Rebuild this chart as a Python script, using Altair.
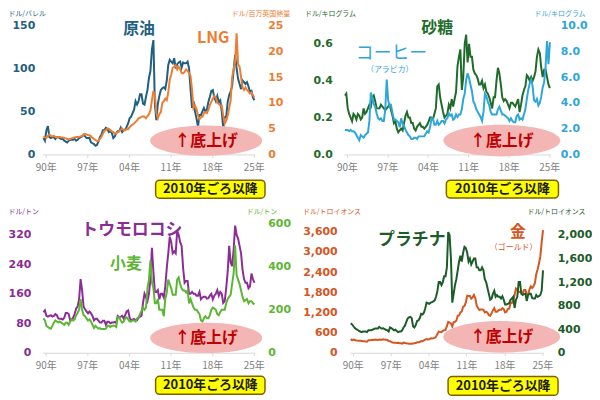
import altair as alt
import pandas as pd

# quarterly time axis (mid-quarter), 1990 Q1 .. 2025 Q3
t = [y + (q + 0.5) / 4 for y in range(1990, 2026) for q in range(4)][:143]

oil = [19, 16, 28, 33, 20, 19, 20, 20, 18, 20, 20, 19, 18, 18, 16, 15,
       14, 16, 17, 17, 17, 18, 16, 17, 19, 20, 21, 23, 21, 19, 19, 19,
       14, 13, 12, 10, 11, 15, 20, 23, 28, 28, 31, 30, 26, 27, 25, 19,
       21, 25, 27, 27, 31, 26, 28, 29, 32, 36, 42, 44, 48, 52, 62, 58,
       62, 70, 70, 59, 58, 67, 75, 89, 97, 122, 133, 58, 40, 59, 68, 75,
       77, 78, 76, 86, 104, 110, 108, 106, 112, 100, 105, 107, 108, 101, 107, 106,
       106, 108, 100, 76, 54, 62, 50, 42, 32, 46, 46, 50, 54, 50, 52, 61,
       67, 74, 75, 66, 62, 68, 61, 63, 50, 30, 43, 44, 61, 69, 73, 80,
       98, 116, 100, 88, 82, 76, 86, 84, 82, 84, 79, 73, 74, 66, 63]
lng = [3.5, 3.3, 3.2, 3.6, 3.9, 3.6, 3.5, 3.6, 3.4, 3.3, 3.4, 3.4, 3.3, 3.3, 3.2, 3.1,
       3.0, 2.9, 3.0, 3.1, 3.2, 3.3, 3.4, 3.4, 3.4, 3.5, 3.6, 3.8, 4.0, 3.9, 3.7, 3.7,
       3.5, 3.2, 3.0, 2.8, 2.6, 2.6, 3.0, 3.4, 4.0, 4.6, 4.7, 5.0, 5.0, 4.7, 4.5, 4.3,
       4.0, 4.1, 4.3, 4.5, 4.8, 5.0, 4.7, 4.7, 4.9, 4.9, 5.3, 5.6, 5.8, 6.0, 6.3, 6.6,
       7.0, 7.1, 7.3, 7.4, 7.3, 7.0, 7.4, 7.8, 8.5, 10.5, 12.3, 11.5, 8.0, 7.0, 7.8, 8.2,
       10.0, 10.3, 10.8, 10.5, 12.0, 14.5, 15.5, 16.8, 17.0, 17.3, 16.5, 17.0, 16.5, 15.8, 15.7, 16.0,
       16.5, 16.2, 15.8, 15.2, 12.5, 9.0, 9.5, 8.8, 7.6, 6.8, 7.2, 7.3, 8.0, 8.2, 8.0, 8.7,
       9.6, 10.2, 10.8, 11.4, 11.0, 10.0, 9.8, 9.5, 9.5, 7.5, 6.0, 6.5, 7.5, 9.0, 10.5, 15.0,
       16.5, 18.0, 23.5, 17.5, 17.0, 15.0, 13.0, 12.5, 13.0, 12.5, 12.2, 11.8, 12.0, 11.5, 11.0]

sugar = [0.32, 0.33, 0.25, 0.22, 0.20, 0.18, 0.22, 0.21, 0.19, 0.22, 0.21, 0.19, 0.20, 0.25, 0.22, 0.23,
         0.25, 0.27, 0.26, 0.31, 0.32, 0.29, 0.25, 0.25, 0.25, 0.27, 0.26, 0.25, 0.24, 0.25, 0.26, 0.27,
         0.24, 0.21, 0.17, 0.18, 0.14, 0.12, 0.13, 0.14, 0.13, 0.17, 0.21, 0.23, 0.20, 0.20, 0.17, 0.17,
         0.14, 0.13, 0.15, 0.16, 0.17, 0.15, 0.15, 0.14, 0.15, 0.16, 0.18, 0.20, 0.20, 0.19, 0.22, 0.25,
         0.37, 0.38, 0.31, 0.27, 0.23, 0.20, 0.21, 0.22, 0.27, 0.25, 0.30, 0.26, 0.30, 0.34, 0.48, 0.53,
         0.57, 0.35, 0.42, 0.60, 0.65, 0.50, 0.60, 0.53, 0.53, 0.46, 0.44, 0.43, 0.41, 0.38, 0.38, 0.40,
         0.36, 0.38, 0.34, 0.33, 0.31, 0.28, 0.25, 0.31, 0.31, 0.40, 0.47, 0.44, 0.38, 0.31, 0.29, 0.30,
         0.29, 0.27, 0.25, 0.28, 0.28, 0.27, 0.26, 0.28, 0.30, 0.23, 0.27, 0.32, 0.35, 0.37, 0.43, 0.42,
         0.40, 0.42, 0.40, 0.42, 0.45, 0.53, 0.57, 0.55, 0.47, 0.42, 0.46, 0.46, 0.42, 0.38, 0.36]
coffee = [1.9, 1.9, 1.9, 1.8, 1.9, 1.8, 1.8, 1.7, 1.5, 1.3, 1.1, 1.5, 1.4, 1.3, 1.5, 1.6,
          1.7, 2.6, 4.8, 4.4, 3.9, 3.7, 3.2, 2.8, 2.7, 2.8, 2.6, 2.6, 3.5, 5.8, 4.2, 3.7,
          3.8, 3.2, 2.7, 2.7, 2.6, 2.5, 2.1, 2.8, 2.4, 2.2, 1.9, 1.7, 1.5, 1.4, 1.2, 1.2,
          1.3, 1.3, 1.2, 1.4, 1.4, 1.4, 1.4, 1.4, 1.6, 1.8, 1.7, 2.1, 2.8, 2.8, 2.3, 2.3,
          2.6, 2.3, 2.4, 2.6, 2.6, 2.4, 2.7, 2.8, 3.2, 3.0, 3.1, 2.7, 2.8, 3.1, 2.9, 3.1,
          3.1, 3.5, 4.3, 4.7, 5.8, 6.3, 5.9, 5.4, 4.9, 4.1, 3.9, 3.5, 3.3, 3.1, 2.9, 2.6,
          3.3, 4.7, 4.5, 4.1, 3.8, 3.3, 3.1, 3.1, 3.1, 3.1, 3.5, 3.7, 3.4, 3.1, 3.1, 3.0,
          2.9, 2.8, 2.6, 2.8, 2.6, 2.5, 2.5, 3.0, 3.1, 2.7, 2.8, 2.7, 3.1, 3.5, 4.3, 5.0,
          5.5, 5.8, 5.3, 4.2, 4.1, 4.3, 3.8, 4.0, 4.5, 5.2, 5.6, 6.8, 8.8, 7.0, 8.7]

corn = [110, 115, 100, 98, 100, 102, 98, 100, 105, 102, 93, 92, 92, 90, 95, 108,
        108, 105, 88, 90, 95, 105, 120, 125, 145, 200, 170, 125, 118, 112, 107, 112,
        107, 100, 88, 92, 92, 87, 82, 82, 87, 87, 76, 84, 84, 80, 82, 82,
        83, 81, 100, 97, 98, 100, 93, 102, 112, 115, 95, 88, 90, 92, 88, 88,
        95, 98, 100, 135, 160, 150, 140, 160, 200, 285, 220, 165, 165, 170, 145, 160,
        160, 150, 180, 230, 270, 315, 300, 270, 275, 270, 330, 320, 300, 290, 230, 190,
        195, 195, 160, 160, 165, 160, 160, 155, 155, 165, 145, 150, 152, 152, 147, 148,
        155, 160, 145, 155, 160, 170, 155, 165, 160, 135, 140, 175, 220, 290, 245, 235,
        280, 345, 320, 310, 290, 270, 225, 200, 190, 190, 175, 180, 215, 200, 190]
wheat = [160, 150, 125, 120, 115, 112, 125, 140, 150, 145, 140, 145, 140, 135, 130, 140,
         140, 130, 145, 155, 150, 155, 175, 185, 200, 250, 200, 175, 170, 160, 150, 155,
         145, 130, 115, 125, 118, 112, 115, 110, 110, 110, 112, 125, 125, 120, 125, 125,
         125, 120, 165, 165, 150, 140, 145, 160, 165, 155, 145, 145, 150, 150, 145, 160,
         165, 180, 195, 210, 200, 210, 300, 340, 430, 330, 300, 230, 230, 250, 200, 200,
         200, 170, 250, 280, 340, 320, 300, 270, 270, 270, 340, 350, 320, 300, 290, 290,
         280, 290, 230, 250, 230, 210, 200, 200, 190, 180, 150, 145, 160, 170, 160, 160,
         175, 200, 210, 205, 200, 180, 175, 190, 200, 200, 200, 230, 250, 260, 270, 320,
         370, 500, 360, 340, 320, 290, 260, 240, 245, 250, 230, 240, 240, 230, 225]

platinum = [500, 480, 450, 420, 400, 390, 370, 360, 350, 360, 360, 360, 350, 380, 380, 380,
            390, 400, 410, 410, 410, 440, 420, 410, 415, 400, 390, 380, 360, 430, 420, 400,
            380, 390, 370, 350, 360, 360, 380, 430, 460, 520, 580, 600, 610, 590, 450, 430,
            470, 540, 550, 590, 660, 650, 680, 750, 850, 840, 830, 850, 860, 870, 890, 950,
            1050, 1200, 1200, 1150, 1200, 1300, 1300, 1450, 2050, 2000, 1600, 850, 1000, 1150, 1250, 1400,
            1550, 1650, 1550, 1700, 1800, 1780, 1700, 1550, 1600, 1500, 1550, 1600, 1600, 1450, 1450, 1400,
            1400, 1450, 1400, 1250, 1200, 1100, 1000, 900, 920, 1000, 1050, 950, 980, 950, 950, 920,
            960, 900, 820, 820, 830, 840, 900, 920, 950, 760, 900, 950, 1200, 1200, 1000, 980,
            1000, 1000, 880, 980, 1000, 1000, 930, 920, 920, 980, 950, 960, 980, 1050, 1400]
gold = [410, 370, 390, 380, 365, 360, 355, 360, 350, 340, 345, 335, 330, 370, 370, 375,
        385, 380, 390, 385, 380, 390, 385, 385, 400, 390, 385, 380, 350, 345, 325, 300,
        295, 300, 290, 295, 285, 280, 270, 300, 290, 280, 275, 270, 265, 265, 275, 280,
        290, 315, 315, 320, 350, 345, 365, 390, 410, 395, 400, 430, 425, 430, 440, 480,
        560, 630, 620, 610, 650, 670, 680, 790, 920, 900, 870, 780, 910, 920, 960, 1100,
        1110, 1200, 1230, 1370, 1390, 1500, 1700, 1690, 1690, 1610, 1650, 1720, 1630, 1410, 1330, 1270,
        1290, 1290, 1280, 1200, 1220, 1190, 1120, 1100, 1180, 1260, 1330, 1220, 1220, 1260, 1280, 1280,
        1330, 1300, 1200, 1220, 1300, 1310, 1480, 1480, 1580, 1710, 1910, 1870, 1800, 1820, 1790, 1790,
        1870, 1870, 1730, 1730, 1890, 1980, 1930, 1980, 2070, 2340, 2480, 2660, 2860, 3280, 3650]

JP = "Noto Sans CJK JP"
NUM = "DejaVu Sans"
X_TICKS = [1990.5, 1997.5, 2004.5, 2011.5, 2018.5, 2025.5]
ELLIPSE = "M -1 0 A 1 0.27 0 1 0 1 0 A 1 0.27 0 1 0 -1 0 Z"


def xaxis():
    return alt.Axis(values=X_TICKS, title=None, grid=False, labelOverlap=False,
                    labelExpr="slice(toString(floor(datum.value)), 2) + '年'",
                    domainColor="#d9d9d9", tickColor="#d9d9d9", tickSize=3,
                    labelColor="#7f7f7f", labelFont=JP, labelFontSize=10,
                    labelPadding=5)


def xscale():
    return alt.Scale(domain=[1990, 2025.7], nice=False, zero=False)


def xenc():
    return alt.X("t:Q", scale=xscale(), axis=xaxis())


def line(vals, color, dom, ticks, fmt, unit, orient, lpad, tx):
    df = pd.DataFrame({"t": t, "v": vals})
    return alt.Chart(df).mark_line(color=color, strokeWidth=2).encode(
        x=xenc(),
        y=alt.Y("v:Q", scale=alt.Scale(domain=dom, nice=False, zero=False),
                axis=alt.Axis(orient=orient, values=ticks, format=fmt, grid=False,
                              domain=False, ticks=False, labelColor=color, labelFont=NUM,
                              labelFontWeight="bold", labelFontSize=11, labelPadding=lpad,
                              title=unit, titleAngle=0,
                              titleAlign="left" if orient == "left" else "right",
                              titleBaseline="top", titleX=tx, titleY=-16,
                              titleFontSize=7, titleColor=color, titleFont=JP,
                              titleFontWeight="normal")))


def ya(v, dom):
    return alt.YDatum(v, scale=alt.Scale(domain=dom, nice=False, zero=False), axis=None)


def xd(v):
    return alt.XDatum(v, scale=xscale(), axis=xaxis())


def annotations(dom, texts, ell, badge):
    layers = []
    ex, ey, ew = ell
    layers.append(alt.Chart().mark_point(shape=ELLIPSE, size=ew * ew, filled=True,
                                         fill="#f4b5b5", opacity=1, strokeWidth=0)
                  .encode(x=xd(ex), y=ya(ey, dom)))
    layers.append(alt.Chart().mark_text(text="↑底上げ", font=JP, fontSize=16, fontWeight="bold",
                                        color="#c00000")
                  .encode(x=xd(ex), y=ya(ey, dom)))
    bx1, bx2, by1, by2 = badge
    layers.append(alt.Chart().mark_rect(fill="#ffff00", stroke="#7f6000", strokeWidth=1.5,
                                        cornerRadius=4)
                  .encode(x=xd(bx1), x2=alt.X2Datum(bx2),
                          y=ya(by1, dom), y2=alt.Y2Datum(by2)))
    layers.append(alt.Chart().mark_text(text="2010年ごろ以降", font=JP, fontSize=13,
                                        fontWeight="bold", color="#1a1a1a")
                  .encode(x=xd((bx1 + bx2) / 2), y=ya((by1 + by2) / 2, dom)))
    for txt, x, y, size, weight, color in texts:
        layers.append(alt.Chart().mark_text(text=txt, font=JP, fontSize=size,
                                            fontWeight=weight, color=color)
                      .encode(x=xd(x), y=ya(y, dom)))
    return alt.layer(*layers)


def panel(left, right, ann, w, h):
    return alt.layer(left, right, ann).resolve_scale(y="independent").properties(width=w, height=h)


# colours
C_OIL, C_LNG = "#1f5f82", "#ed7d31"
C_SUGAR, C_COFFEE = "#1e6b2a", "#2ea6d9"
C_CORN, C_WHEAT = "#8b2c97", "#5db534"
C_PLAT, C_GOLD = "#1c5c28", "#d5561f"

D1 = [0, 150]
p1 = panel(
    line(oil, C_OIL, D1, [0, 50, 100, 150], "d", "ドル/バレル", "left", 8, -35),
    line(lng, C_LNG, [0, 25], [0, 5, 10, 15, 20, 25], "d", "ドル/百万英国熱量", "right", 13, 35),
    annotations(D1, [("原油", 2006.2, 146, 16, "bold", C_OIL),
                     ("LNG", 2018.7, 136, 16, "bold", C_LNG)],
                (2017.5, 16, 113), (2009.0, 2027.4, -30, -51)),
    214, 130)

D2 = [0, 0.7]
p2 = panel(
    line(sugar, C_SUGAR, D2, [0, 0.2, 0.4, 0.6], ".1f", "ドル/キログラム", "left", 12, -40),
    line(coffee, C_COFFEE, [0, 10], [0, 2, 4, 6, 8, 10], ".1f", "ドル/キログラム", "right", 10, 35),
    annotations(D2, [("砂糖", 2006.1, 0.685, 16, "bold", C_SUGAR),
                     ("コーヒー", 1998.2, 0.544, 18, "normal", C_COFFEE),
                     ("（アラビカ）", 1997.9, 0.458, 8, "normal", C_COFFEE)],
                (2017.3, 0.075, 118), (2007.7, 2027.1, -0.14, -0.237)),
    208, 130)

D3 = [0, 350]
p3 = panel(
    line(corn, C_CORN, D3, [0, 80, 160, 240, 320], "d", "ドル/トン", "left", 12, -35),
    line(wheat, C_WHEAT, [0, 600], [0, 200, 400, 600], "d", "ドル/トン", "right", 13, 22),
    annotations(D3, [("トウモロコシ", 2005.0, 333, 17, "bold", C_CORN),
                     ("小麦", 2004.0, 240, 16, "bold", C_WHEAT)],
                (2017.5, 40, 113), (2009.0, 2027.4, -64, -113)),
    214, 130)

D4 = [0, 3840]
p4 = panel(
    line(gold, C_GOLD, D4, [0, 600, 1200, 1800, 2400, 3000, 3600], ",d", "ドル/トロイオンス", "left", 13, -48),
    line(platinum, C_PLAT, [0, 2190], [0, 400, 800, 1200, 1600, 2000], ",d", "ドル/トロイオンス", "right", 14, 42),
    annotations(D4, [("プラチナ", 2001.4, 3368, 17, "bold", C_PLAT),
                     ("金", 2021.0, 3604, 16, "bold", C_GOLD),
                     ("（ゴールド）", 2020.2, 3131, 8, "normal", C_GOLD)],
                (2018.0, 473, 118), (2008.1, 2028.4, -709, -1270)),
    195, 130)

chart = alt.vconcat(
    alt.hconcat(p1, p2, spacing=90, bounds="flush"),
    alt.hconcat(p3, p4, spacing=96, bounds="flush"),
    spacing=200, bounds="flush",
).configure_view(stroke=None).configure_axisX(labelOverlap=False).properties(
    padding=0, background="white")

chart.save("out.html", embed_options={"renderer": "svg", "actions": False})
